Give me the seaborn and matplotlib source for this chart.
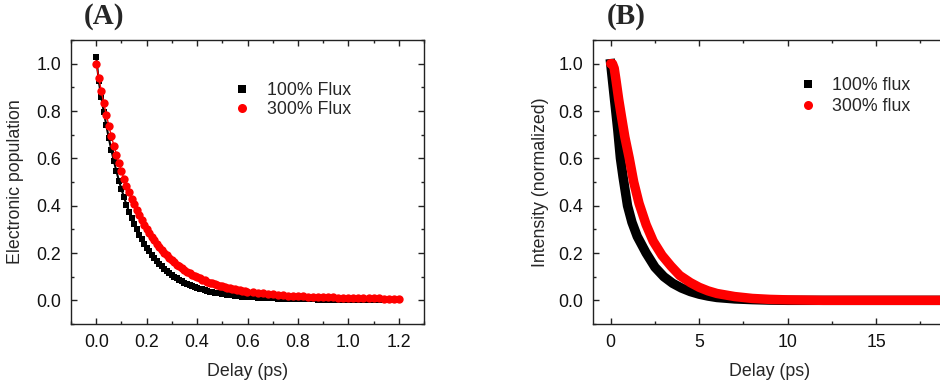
import numpy as np
import pandas as pd
import seaborn as sns
import matplotlib
matplotlib.use("Agg")
import matplotlib.pyplot as plt
from matplotlib.ticker import MultipleLocator
from matplotlib.lines import Line2D

# ---------------- Panel A data ----------------
a_x = [0.00, 0.01, 0.02, 0.03, 0.04, 0.05, 0.06, 0.07, 0.08, 0.09,
       0.10, 0.11, 0.12, 0.13, 0.14, 0.15, 0.16, 0.17, 0.18, 0.19,
       0.20, 0.21, 0.22, 0.23, 0.24, 0.25, 0.26, 0.27, 0.28, 0.29,
       0.30, 0.31, 0.32, 0.33, 0.34, 0.35, 0.36, 0.37, 0.38, 0.39,
       0.40, 0.41, 0.42, 0.43, 0.44, 0.45, 0.46, 0.47, 0.48, 0.49,
       0.50, 0.51, 0.52, 0.53, 0.54, 0.55, 0.56, 0.57, 0.58, 0.59,
       0.60, 0.62, 0.64, 0.66, 0.68, 0.70, 0.72, 0.74, 0.76, 0.78,
       0.80, 0.82, 0.84, 0.86, 0.88, 0.90, 0.92, 0.94, 0.96, 0.98,
       1.00, 1.02, 1.04, 1.06, 1.08, 1.10, 1.12, 1.14, 1.16, 1.18, 1.20]

a_flux100 = [1.030, 0.927, 0.859, 0.797, 0.739, 0.685, 0.635, 0.589, 0.546, 0.506,
             0.470, 0.436, 0.404, 0.375, 0.348, 0.323, 0.300, 0.278, 0.258, 0.240,
             0.223, 0.207, 0.192, 0.178, 0.166, 0.154, 0.143, 0.133, 0.124, 0.115,
             0.107, 0.100, 0.093, 0.086, 0.080, 0.075, 0.070, 0.065, 0.060, 0.056,
             0.053, 0.049, 0.046, 0.043, 0.040, 0.037, 0.035, 0.033, 0.030, 0.029,
             0.027, 0.025, 0.023, 0.022, 0.021, 0.019, 0.018, 0.017, 0.016, 0.015,
             0.014, 0.013, 0.011, 0.010, 0.009, 0.008, 0.007, 0.0065, 0.006, 0.005,
             0.005, 0.004, 0.004, 0.004, 0.003, 0.003, 0.003, 0.003, 0.002, 0.002,
             0.002, 0.002, 0.002, 0.002, 0.001, 0.001, 0.001, 0.001, 0.001, 0.001, 0.001]

a_flux300 = [1.000, 0.941, 0.885, 0.833, 0.784, 0.738, 0.694, 0.654, 0.616, 0.580,
             0.546, 0.514, 0.484, 0.456, 0.430, 0.405, 0.381, 0.360, 0.339, 0.320,
             0.301, 0.284, 0.268, 0.253, 0.239, 0.225, 0.213, 0.201, 0.190, 0.179,
             0.169, 0.160, 0.151, 0.143, 0.135, 0.128, 0.121, 0.115, 0.109, 0.103,
             0.098, 0.093, 0.088, 0.084, 0.079, 0.075, 0.072, 0.068, 0.065, 0.062,
             0.059, 0.056, 0.053, 0.051, 0.049, 0.046, 0.044, 0.042, 0.040, 0.039,
             0.037, 0.034, 0.031, 0.029, 0.027, 0.025, 0.023, 0.0215, 0.020, 0.019,
             0.018, 0.0165, 0.0156, 0.0148, 0.014, 0.0133, 0.0126, 0.012, 0.0115, 0.011,
             0.0105, 0.010, 0.0095, 0.009, 0.0087, 0.0083, 0.008, 0.0077, 0.0074, 0.0071, 0.0068]

a_labels = ["100% Flux", "300% Flux"]

# ---------------- Panel B data ----------------
b_x_100 = [0, 0.1, 0.2, 0.3, 0.4, 0.55, 0.7, 0.95, 1.2, 1.5, 2.0, 2.5, 3.0, 3.5,
           4.0, 4.5, 5.0, 5.5, 6.0, 7.0, 8.0, 9.0, 10.0, 12.0, 15.0, 20.0]
b_flux100 = [1.0, 0.93, 0.86, 0.79, 0.72, 0.60, 0.52, 0.40, 0.33, 0.27, 0.20, 0.14, 0.10, 0.072,
             0.052, 0.037, 0.026, 0.018, 0.012, 0.006, 0.003, 0.001, 0.0, 0.0, 0.0, 0.0]

b_x_300 = [0, 0.1, 0.2, 0.3, 0.45, 0.6, 0.8, 1.05, 1.3, 1.6, 2.0, 2.4, 2.9, 3.4,
           3.9, 4.5, 5.0, 5.5, 6.0, 7.0, 8.0, 9.0, 10.0, 12.0, 15.0, 20.0]
b_flux300 = [1.0, 1.0, 0.98, 0.93, 0.85, 0.78, 0.69, 0.60, 0.50, 0.41, 0.32, 0.25, 0.19, 0.145,
             0.105, 0.075, 0.055, 0.040, 0.029, 0.016, 0.008, 0.004, 0.002, 0.0, 0.0, 0.0]

b_labels = ["100% flux", "300% flux"]

# ---------------- Style ----------------
sns.set_style("ticks")
FS = 12.8
plt.rcParams["font.family"] = ["Liberation Sans", "DejaVu Sans"]
plt.rcParams["font.size"] = FS
plt.rcParams["axes.linewidth"] = 1.0
plt.rcParams["axes.edgecolor"] = "#222222"

fig = plt.figure(figsize=(9.4, 3.86), dpi=100)
W, H = 940.0, 386.0
axA = fig.add_axes([71 / W, (H - 324) / H, 353 / W, 284 / H])
axB = fig.add_axes([593 / W, (H - 324) / H, 354 / W, 284 / H])


def style_axis(ax, xmaj, xmin):
    ax.xaxis.set_major_locator(MultipleLocator(xmaj))
    ax.xaxis.set_minor_locator(MultipleLocator(xmin))
    ax.yaxis.set_major_locator(MultipleLocator(0.2))
    ax.yaxis.set_minor_locator(MultipleLocator(0.1))
    ax.tick_params(which="both", direction="in", top=True, right=True,
                   labelsize=FS, color="#222222", labelcolor="#111111")
    ax.tick_params(which="major", length=4, width=1.0, pad=7)
    ax.tick_params(which="minor", length=2.5, width=1.0)
    for s in ax.spines.values():
        s.set_visible(True)
        s.set_linewidth(1.0)


# Panel A
dfA = pd.DataFrame({"delay": a_x, "f100": a_flux100, "f300": a_flux300})
sns.lineplot(data=dfA, x="delay", y="f100", ax=axA, color="black", lw=1.5,
             marker="s", markersize=4.6, markeredgewidth=0, estimator=None, sort=False)
sns.lineplot(data=dfA, x="delay", y="f300", ax=axA, color="#ff0000", lw=1.0,
             marker="o", markersize=6.0, markeredgewidth=0, estimator=None, sort=False)
axA.set_xlim(-0.1, 1.3)
axA.set_ylim(-0.1, 1.1)
style_axis(axA, 0.2, 0.1)
axA.xaxis.set_major_formatter(plt.FuncFormatter(lambda v, p: f"{v:.1f}"))
axA.yaxis.set_major_formatter(plt.FuncFormatter(lambda v, p: f"{v:.1f}"))
axA.set_xlabel("Delay (ps)", fontsize=FS, labelpad=9)
axA.set_ylabel("Electronic population", fontsize=FS, labelpad=9)
hA = [Line2D([], [], ls="", marker="s", color="black", ms=5.5, mew=0),
      Line2D([], [], ls="", marker="o", color="#ff0000", ms=6.5, mew=0)]
axA.legend(hA, a_labels, loc="center left", bbox_to_anchor=(0.459, 0.789),
           frameon=False, handlelength=1.0, handletextpad=0.93, borderpad=0,
           borderaxespad=0, labelspacing=0.1, fontsize=FS)

# Panel B
dfB1 = pd.DataFrame({"delay": b_x_100, "val": b_flux100})
dfB3 = pd.DataFrame({"delay": b_x_300, "val": b_flux300})
sns.lineplot(data=dfB1, x="delay", y="val", ax=axB, color="black", lw=6.8,
             estimator=None, sort=False, solid_capstyle="projecting")
sns.lineplot(data=dfB3, x="delay", y="val", ax=axB, color="#ff0000", lw=6.8,
             estimator=None, sort=False, solid_capstyle="round")
axB.set_xlim(-1, 19)
axB.set_ylim(-0.1, 1.1)
style_axis(axB, 5, 2.5)
axB.yaxis.set_major_formatter(plt.FuncFormatter(lambda v, p: f"{v:.1f}"))
axB.set_xlabel("Delay (ps)", fontsize=FS, labelpad=9)
axB.set_ylabel("Intensity (normalized)", fontsize=FS, labelpad=7)
hB = [Line2D([], [], ls="", marker="s", color="black", ms=5.5, mew=0),
      Line2D([], [], ls="", marker="o", color="#ff0000", ms=6.5, mew=0)]
axB.legend(hB, b_labels, loc="center left", bbox_to_anchor=(0.582, 0.803),
           frameon=False, handlelength=1.0, handletextpad=0.85, borderpad=0,
           borderaxespad=0, labelspacing=0.2, fontsize=FS)

# Panel letters
fig.text(104 / W, 1 - 17 / H, "(A)", ha="center", va="center",
         family=["Liberation Serif", "DejaVu Serif"], weight="bold", fontsize=21)
fig.text(626 / W, 1 - 17 / H, "(B)", ha="center", va="center",
         family=["Liberation Serif", "DejaVu Serif"], weight="bold", fontsize=21)

fig.savefig("out.png", dpi=100)
